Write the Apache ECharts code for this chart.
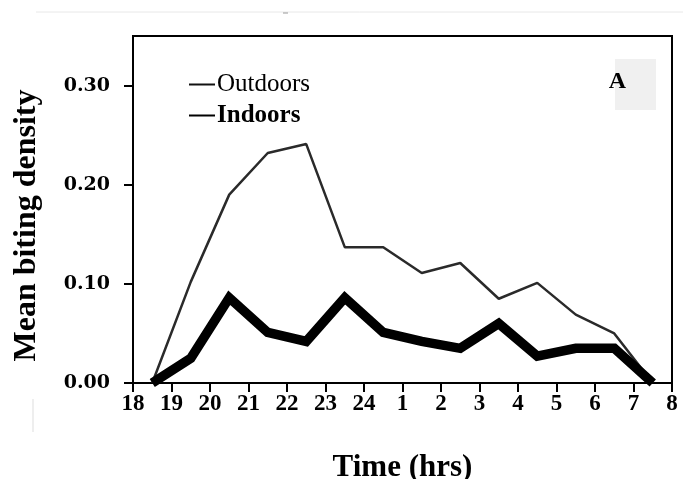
<!DOCTYPE html>
<html>
<head>
<meta charset="utf-8">
<script src="https://cdn.jsdelivr.net/npm/echarts@6/dist/echarts.min.js"></script>
<style>
  html, body { margin: 0; padding: 0; background: #fff; }
  #main { width: 683px; height: 479px; }
</style>
</head>
<body>
<div id="main"></div>
<script>
// hour labels on the x axis (18h .. 8h next morning)
var hourLabels = ['18', '19', '20', '21', '22', '23', '24', '1', '2', '3', '4', '5', '6', '7', '8'];
// half-hour slot positions, measured in hours after 18:00
var slots = [0.5, 1.5, 2.5, 3.5, 4.5, 5.5, 6.5, 7.5, 8.5, 9.5, 10.5, 11.5, 12.5, 13.5];
var outdoors = [0, 0.102, 0.19, 0.232, 0.241, 0.137, 0.137, 0.111, 0.121, 0.085, 0.101, 0.069, 0.05, 0];
var indoors = [0, 0.025, 0.086, 0.051, 0.042, 0.086, 0.051, 0.042, 0.035, 0.06, 0.027, 0.035, 0.035, 0];
var yTicks = [0, 0.1, 0.2, 0.3];

function pairs(vals) {
    return vals.map(function (v, i) { return [slots[i], v]; });
}

var serif = 'Liberation Serif';

option = {
    backgroundColor: '#fff',
    animation: false,
    grid: {
        show: true,
        left: 133,
        right: 11,
        top: 36,
        bottom: 96,
        outerBoundsMode: 'none',
        borderColor: '#000',
        borderWidth: 2
    },
    legend: {
        orient: 'vertical',
        left: 184,
        top: 67,
        itemGap: 6,
        itemWidth: 26,
        itemHeight: 2,
        icon: 'rect',
        selectedMode: false,
        textStyle: {
            fontFamily: serif,
            fontSize: 25,
            color: '#000',
            padding: [0, 0, 0, -3]
        },
        data: [
            { name: 'Outdoors', itemStyle: { color: '#111' }, textStyle: { fontWeight: 'normal' } },
            { name: 'Indoors', itemStyle: { color: '#000' }, textStyle: { fontWeight: 'bold' } }
        ]
    },
    xAxis: {
        type: 'value',
        min: 0,
        max: 14,
        interval: 1,
        name: 'Time (hrs)',
        nameLocation: 'middle',
        nameGap: 69,
        nameTextStyle: {
            fontFamily: serif,
            fontWeight: 'bold',
            fontSize: 31,
            color: '#000'
        },
        axisLine: { show: true, lineStyle: { color: '#000', width: 2 } },
        axisTick: { show: true, length: 9, lineStyle: { color: '#000', width: 2 } },
        axisLabel: {
            margin: 10,
            fontFamily: serif,
            fontWeight: 'bold',
            fontSize: 23,
            color: '#000',
            formatter: function (v) { return hourLabels[v]; }
        },
        splitLine: { show: false }
    },
    yAxis: {
        type: 'value',
        min: 0,
        max: 0.35,
        interval: 0.1,
        name: 'Mean biting density',
        nameLocation: 'middle',
        nameGap: 90,
        nameTextStyle: {
            fontFamily: serif,
            fontWeight: 'bold',
            fontSize: 32,
            color: '#000',
            padding: [0, 32, 0, 0]
        },
        axisLine: { show: true, lineStyle: { color: '#000', width: 2 } },
        axisTick: { show: true, length: 9, customValues: yTicks, lineStyle: { color: '#000', width: 2 } },
        axisLabel: {
            margin: 23,
            customValues: yTicks,
            fontFamily: 'DejaVu Serif',
            fontWeight: 'bold',
            fontSize: 19,
            color: '#000',
            formatter: function (v) { return v.toFixed(2); }
        },
        splitLine: { show: false }
    },
    graphic: [
        { type: 'line', shape: { x1: 36, y1: 12, x2: 683, y2: 12 }, style: { stroke: '#e8e8e8', lineWidth: 1 } },
        { type: 'line', shape: { x1: 283, y1: 13, x2: 288, y2: 13 }, style: { stroke: '#999', lineWidth: 1 } },
        { type: 'line', shape: { x1: 33, y1: 399, x2: 33, y2: 432 }, style: { stroke: '#ddd', lineWidth: 1 } },
        { type: 'rect', shape: { x: 615, y: 59, width: 41, height: 51 }, style: { fill: '#f0f0f0' }, z: 1 },
        {
            type: 'text', x: 617.5, y: 82, z: 2,
            style: {
                text: 'A', fontFamily: serif, fontWeight: 'bold', fontSize: 24,
                fill: '#000', align: 'center', verticalAlign: 'middle'
            }
        }
    ],
    series: [{
        name: 'Outdoors',
        type: 'line',
        showSymbol: false,
        symbol: 'none',
        lineStyle: { color: '#2a2a2a', width: 2.5 },
        itemStyle: { color: '#2a2a2a' },
        data: pairs(outdoors),
        z: 3
    }, {
        name: 'Indoors',
        type: 'line',
        showSymbol: false,
        symbol: 'none',
        lineStyle: { color: '#000', width: 9.5, join: 'miter' },
        itemStyle: { color: '#000' },
        data: pairs(indoors),
        z: 4
    }]
};

var myChart = echarts.init(document.getElementById('main'));
myChart.setOption(option);
</script>
</body>
</html>
